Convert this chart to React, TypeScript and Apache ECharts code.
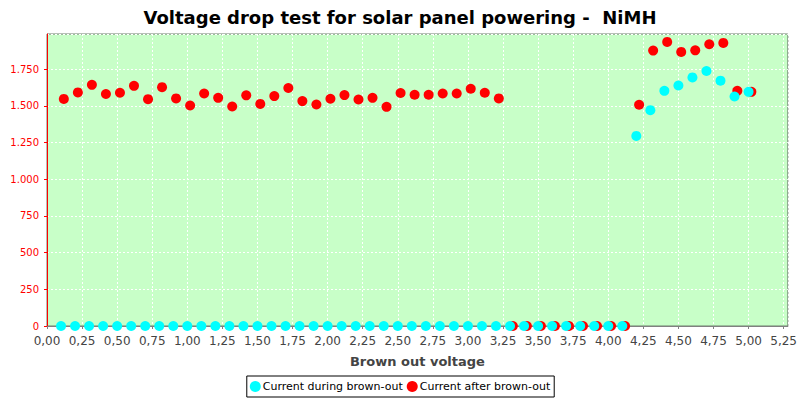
import React, { useEffect, useRef } from "react";
import * as echarts from "echarts";

const titleText = "Voltage drop test for solar panel powering -  NiMH";
const xAxisName = "Brown out voltage";
const seriesNames = ["Current during brown-out", "Current after brown-out"];

const xDuring = [
  0.1, 0.2, 0.3, 0.4, 0.5, 0.6, 0.7, 0.8, 0.9, 1.0,
  1.1, 1.2, 1.3, 1.4, 1.5, 1.6, 1.7, 1.8, 1.9, 2.0,
  2.1, 2.2, 2.3, 2.4, 2.5, 2.6, 2.7, 2.8, 2.9, 3.0,
  3.1, 3.2, 3.3, 3.4, 3.5, 3.6, 3.7, 3.8, 3.9, 4.0,
  4.1, 4.2, 4.3, 4.4, 4.5, 4.6, 4.7, 4.8, 4.9, 5.0,
];
const currentDuring = [
  0, 0, 0, 0, 0, 0, 0, 0, 0, 0,
  0, 0, 0, 0, 0, 0, 0, 0, 0, 0,
  0, 0, 0, 0, 0, 0, 0, 0, 0, 0,
  0, 0, 0, 0, 0, 0, 0, 0, 0, 0,
  0, 1295, 1470, 1602, 1638, 1693, 1737, 1671, 1563, 1595,
];

const xAfter = [
  0.12, 0.22, 0.32, 0.42, 0.52, 0.62, 0.72, 0.82, 0.92, 1.02,
  1.12, 1.22, 1.32, 1.42, 1.52, 1.62, 1.72, 1.82, 1.92, 2.02,
  2.12, 2.22, 2.32, 2.42, 2.52, 2.62, 2.72, 2.82, 2.92, 3.02,
  3.12, 3.22, 3.32, 3.42, 3.52, 3.62, 3.72, 3.82, 3.92, 4.02,
  4.12, 4.22, 4.32, 4.42, 4.52, 4.62, 4.72, 4.82, 4.92, 5.02,
];
const currentAfter = [
  1547, 1591, 1643, 1580, 1589, 1636, 1545, 1627, 1550, 1502,
  1584, 1554, 1495, 1571, 1513, 1566, 1621, 1532, 1509, 1548,
  1573, 1543, 1554, 1493, 1587, 1575, 1575, 1584, 1584, 1616,
  1589, 1550, 0, 0, 0, 0, 0, 0, 0, 0,
  0, 1507, 1876, 1935, 1867, 1878, 1919, 1928, 1602, 1595,
];

const xMin = 0;
const xMax = 5.28;
const xInterval = 0.25;
const yMin = 0;
const yMax = 1989;
const yInterval = 250;

export default function App() {
  const ref = useRef<HTMLDivElement>(null);
  useEffect(() => {
    if (!ref.current) return;
    const chart = echarts.init(ref.current, undefined, { renderer: "svg" });
    const font = "'DejaVu Sans', sans-serif";
    chart.setOption({
      animation: false,
      backgroundColor: "#ffffff",
      title: {
        text: titleText,
        left: "center",
        top: 3,
        textStyle: { fontFamily: font, fontSize: 18, fontWeight: "bold", color: "#000000" },
      },
      grid: {
        left: 47,
        right: 11,
        top: 34,
        bottom: 74,
        show: true,
        backgroundColor: "#c8ffc8",
        borderColor: "#6f7f6f",
        borderWidth: 1,
        containLabel: false,
      },
      legend: {
        data: seriesNames,
        bottom: 3,
        left: "center",
        orient: "horizontal",
        icon: "circle",
        itemWidth: 11,
        itemHeight: 11,
        itemGap: 4,
        padding: [5, 4, 5, 3],
        borderColor: "#000000",
        borderWidth: 1,
        backgroundColor: "#ffffff",
        textStyle: { fontFamily: font, fontSize: 11, color: "#000000", padding: [0, 0, 0, -3] },
      },
      xAxis: {
        type: "value",
        min: xMin,
        max: xMax,
        interval: xInterval,
        offset: 4,
        name: xAxisName,
        nameLocation: "middle",
        nameGap: 25,
        nameTextStyle: { fontFamily: font, fontSize: 13, fontWeight: "bold", color: "#444444" },
        axisLine: { show: true, lineStyle: { color: "#808080", width: 1 } },
        axisTick: { show: true, length: 3, lineStyle: { color: "#808080" } },
        axisLabel: {
          fontFamily: font,
          fontSize: 12,
          color: "#444444",
          margin: 5,
          showMaxLabel: false,
          formatter: (v: number) => {
            const r = Math.round(v * 100);
            if (r % 25 !== 0) return "";
            return (r / 100).toFixed(2).replace(".", ",");
          },
        },
        splitLine: { show: true, lineStyle: { color: "#ffffff", type: [2, 2], width: 1 } },
      },
      yAxis: {
        type: "value",
        min: yMin,
        max: yMax,
        interval: yInterval,
        offset: 4,
        axisLine: { show: true, lineStyle: { color: "#ff0000", width: 1 } },
        axisTick: { show: true, length: 3, lineStyle: { color: "#ff0000" } },
        axisLabel: {
          fontFamily: font,
          fontSize: 10,
          color: "#ff0000",
          margin: 4,
          showMaxLabel: false,
          formatter: (v: number) => {
            if (v % 250 !== 0) return "";
            return v.toLocaleString("de-DE");
          },
        },
        splitLine: { show: true, lineStyle: { color: "#ffffff", type: [2, 2], width: 1 } },
      },
      series: [
        {
          name: seriesNames[1],
          type: "scatter",
          symbol: "circle",
          symbolSize: 10,
          clip: true,
          itemStyle: { color: "#ff0000", opacity: 1 },
          data: xAfter.map((x, i) => [x, currentAfter[i]]),
        },
        {
          name: seriesNames[0],
          type: "scatter",
          symbol: "circle",
          symbolSize: 10,
          clip: true,
          itemStyle: { color: "#00ffff", opacity: 1 },
          data: xDuring.map((x, i) => [x, currentDuring[i]]),
        },
      ],
    });
    return () => chart.dispose();
  }, []);
  return <div ref={ref} style={{ width: 800, height: 400, position: "absolute", left: 0, top: 0 }} />;
}
